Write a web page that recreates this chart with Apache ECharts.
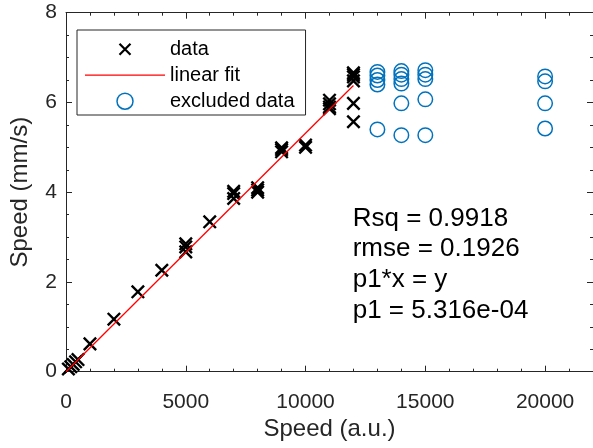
<!DOCTYPE html>
<html>
<head>
<meta charset="utf-8">
<script src="https://cdn.jsdelivr.net/npm/echarts@6/dist/echarts.min.js"></script>
<style>html,body{margin:0;padding:0;background:#fff}#c{width:593px;height:448px}</style>
</head>
<body>
<div id="c"></div>
<script>
// ---- data ----
var dataX = [100,200,300,400,500,1000,2000,3000,4000,5000,5000,5000,6000,7000,7000,7000,8000,8000,8000,9000,9000,9000,10000,10000,11000,11000,11000,11000,12000,12000,12000,12000,12000,12000];
var dataY = [0.06,0.11,0.16,0.22,0.27,0.62,1.17,1.78,2.26,2.85,2.78,2.67,3.34,4.02,3.97,3.86,4.10,4.05,4.00,4.99,4.95,4.90,5.05,5.00,6.05,5.97,5.90,5.86,6.66,6.62,6.57,6.48,5.98,5.57];
var exclX = [13000,13000,13000,13000,13000,14000,14000,14000,14000,14000,14000,15000,15000,15000,15000,15000,20000,20000,20000,20000];
var exclY = [6.68,6.60,6.50,6.40,5.40,6.70,6.62,6.52,6.42,5.98,5.27,6.72,6.62,6.52,6.07,5.27,6.58,6.47,5.98,5.42];
var fitX = [0,12000];
var fitY = [0,6.379];
var xTicks = {min:0, max:22000, step:5000};
var yTicks = {min:0, max:8, step:2};
var statsLines = ['Rsq = 0.9918','rmse = 0.1926','p1*x = y','p1 = 5.316e-04'];
var legendNames = ['data','linear fit','excluded data'];

function zip(a,b){return a.map(function(v,i){return [v,b[i]];});}

var FONT = '"Liberation Sans", Arial, Helvetica, sans-serif';
var AX = '#262626';
var crossPath = 'path://M0,0M16,16M2.5,2.5L13.5,13.5M13.5,2.5L2.5,13.5';
var linePath = 'path://M0,0h80v1.3h-80z';

function xAx(pos, labels){
  return {
    type:'value', position:pos, min:xTicks.min, max:xTicks.max, interval:xTicks.step,
    axisLine:{show:true, onZero:false, lineStyle:{color:AX,width:1}},
    axisTick:{show:true, inside:true, length:6, lineStyle:{color:AX}},
    minorTick:{show:true, splitNumber:5, length:3, lineStyle:{color:AX}},
    splitLine:{show:false}, minorSplitLine:{show:false},
    axisLabel:{show:labels, fontSize:21, color:AX, fontFamily:FONT, margin:20, showMaxLabel:false,
      formatter:function(v){return String(v);}},
    name: labels ? 'Speed (a.u.)' : '', nameLocation:'middle', nameGap:46,
    nameTextStyle:{fontSize:24, color:AX, fontFamily:FONT}
  };
}
function yAx(pos, labels){
  return {
    type:'value', position:pos, min:yTicks.min, max:yTicks.max, interval:yTicks.step,
    axisLine:{show:true, onZero:false, lineStyle:{color:AX,width:1}},
    axisTick:{show:true, inside:true, length:6, lineStyle:{color:AX}},
    minorTick:{show:true, splitNumber:4, length:3, lineStyle:{color:AX}},
    splitLine:{show:false}, minorSplitLine:{show:false},
    axisLabel:{show:labels, fontSize:21, color:AX, fontFamily:FONT, margin:9,
      formatter:function(v){return String(v);}},
    name: labels ? 'Speed (mm/s)' : '', nameLocation:'middle', nameGap:34,
    nameTextStyle:{fontSize:24, color:AX, fontFamily:FONT}
  };
}

var chart = echarts.init(document.getElementById('c'), null, {renderer:'canvas'});
chart.setOption({
  animation:false,
  backgroundColor:'#fff',
  grid:{left:61.7, top:12.7, width:532.7, height:359},
  xAxis:[xAx('bottom',true), xAx('top',false)],
  yAxis:[yAx('left',true), yAx('right',false)],
  legend:{
    orient:'vertical', left:77, top:30,
    padding:[9.2,11,3.8,8],
    itemWidth:80, itemHeight:16, itemGap:6,
    borderColor:AX, borderWidth:1, backgroundColor:'#fff',
    textStyle:{fontSize:20, color:'#000', fontFamily:FONT},
    data:[
      {name:legendNames[0], icon:crossPath, itemStyle:{color:'transparent', borderColor:'#000', borderWidth:2.2}},
      {name:legendNames[1], icon:linePath, itemStyle:{color:'#ff0000', borderWidth:0}},
      {name:legendNames[2], icon:'circle', itemStyle:{color:'transparent', borderColor:'#0072BD', borderWidth:1.5}}
    ]
  },
  series:[
    {name:legendNames[0], type:'scatter', data:zip(dataX,dataY), symbol:crossPath, symbolSize:18,
     itemStyle:{color:'transparent', borderColor:'#000', borderWidth:2.4, opacity:1}, z:3},
    {name:legendNames[1], type:'line', data:zip(fitX,fitY), showSymbol:false, symbol:'none',
     lineStyle:{color:'#ff0000', width:1.3}, itemStyle:{color:'#ff0000'}, z:4},
    {name:legendNames[2], type:'scatter', data:zip(exclX,exclY), symbol:'circle', symbolSize:14.5,
     itemStyle:{color:'transparent', borderColor:'#0072BD', borderWidth:1.5, opacity:1}, z:3}
  ],
  graphic:[{
    type:'text', left:352.7, top:203, z:10,
    style:{text:statsLines.join('\n'), fontSize:26, lineHeight:30.7, fill:'#000', fontFamily:FONT}
  }]
});
</script>
</body>
</html>
